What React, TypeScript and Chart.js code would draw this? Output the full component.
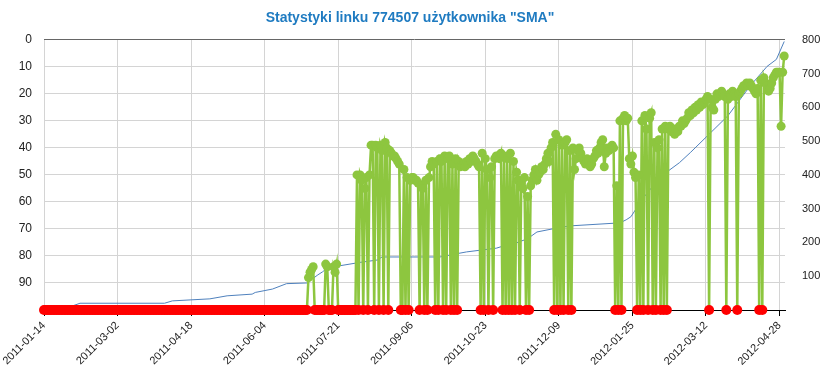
import { useEffect, useRef } from 'react';
import { Chart, registerables } from 'chart.js';

Chart.register(...registerables);

const TITLE = 'Statystyki linku 774507 użytkownika "SMA"';

// x axis: day index counted from 2011-01-14
const tickDays = [0, 47, 94, 141, 188, 235, 282, 329, 376, 423, 470];
const tickLabels = [
  '2011-01-14', '2011-03-02', '2011-04-18', '2011-06-04', '2011-07-21', '2011-09-06',
  '2011-10-23', '2011-12-09', '2012-01-25', '2012-03-12', '2012-04-28',
];

// daily position (left axis, reversed); 100 = outside ranking (red dot)
const rankByDay = [
  // 0-159
  100, 100, 100, 100, 100, 100, 100, 100, 100, 100,
  100, 100, 100, 100, 100, 100, 100, 100, 100, 100,
  100, 100, 100, 100, 100, 100, 100, 100, 100, 100,
  100, 100, 100, 100, 100, 100, 100, 100, 100, 100,
  100, 100, 100, 100, 100, 100, 100, 100, 100, 100,
  100, 100, 100, 100, 100, 100, 100, 100, 100, 100,
  100, 100, 100, 100, 100, 100, 100, 100, 100, 100,
  100, 100, 100, 100, 100, 100, 100, 100, 100, 100,
  100, 100, 100, 100, 100, 100, 100, 100, 100, 100,
  100, 100, 100, 100, 100, 100, 100, 100, 100, 100,
  100, 100, 100, 100, 100, 100, 100, 100, 100, 100,
  100, 100, 100, 100, 100, 100, 100, 100, 100, 100,
  100, 100, 100, 100, 100, 100, 100, 100, 100, 100,
  100, 100, 100, 100, 100, 100, 100, 100, 100, 100,
  100, 100, 100, 100, 100, 100, 100, 100, 100, 100,
  100, 100, 100, 100, 100, 100, 100, 100, 100, 100,
  // 160-169
  100, 100, 100, 100, 100, 100, 100, 100, 100, 88,
  // 170-179
  86, 85, 84, 100, 100, 100, 100, 100, 100, 100,
  // 180-189
  83, 84, 100, 100, 100, 84, 86, 83, 100, 100,
  // 190-199
  100, 100, 100, 100, 100, 100, 100, 100, 100, 100,
  // 200-209
  50, 100, 50, 52, 100, 55, 51, 100, 50, 39,
  // 210-219
  39, 100, 39, 40, 100, 39, 41, 100, 38, 40,
  // 220-229
  100, 41, 42, 43, 43, 44, 45, 46, 100, 100,
  // 230-239
  48, 100, 51, 100, 52, 51, 51, 52, 52, 53,
  // 240-249
  100, 54, 55, 100, 52, 100, 51, 47, 45, 46,
  // 250-259
  100, 45, 100, 44, 45, 100, 43, 100, 44, 43,
  // 260-269
  100, 46, 100, 44, 100, 45, 47, 46, 46, 47,
  // 270-279
  45, 46, 44, 45, 43, 44, 45, 46, 47, 100,
  // 280-289
  42, 100, 44, 48, 100, 51, 47, 100, 44, 43,
  // 290-299
  43, 44, 42, 100, 43, 100, 44, 100, 42, 100,
  // 300-309
  45, 100, 49, 52, 100, 53, 55, 51, 100, 58,
  // 310-319
  100, 54, 52, 50, 48, 52, 50, 49, 47, 48,
  // 320-329
  46, 44, 42, 45, 40, 38, 100, 35, 100, 37,
  // 330-339
  100, 39, 100, 38, 37, 100, 41, 100, 40, 48,
  // 340-349
  44, 41, 40, 42, 44, 45, 46, 44, 45, 47,
  // 350-359
  46, 44, 43, 41, 42, 40, 38, 37, 47, 42,
  // 360-369
  40, 41, 40, 39, 40, 100, 54, 100, 30, 100,
  // 370-379
  29, 28, 30, 29, 44, 46, 43, 49, 51, 100,
  // 380-389
  50, 100, 30, 100, 28, 33, 100, 29, 27, 100,
  // 390-399
  38, 100, 40, 37, 100, 33, 100, 32, 100, 33,
  // 400-409
  32, 34, 33, 35, 33, 34, 32, 32, 30, 31,
  // 410-419
  30, 29, 27, 28, 26, 27, 25, 26, 24, 25,
  // 420-429
  23, 24, 23, 22, 21, 100, 22, 25, 26, 22,
  // 430-439
  20, 21, 20, 19, 20, 21, 100, 22, 20, 21,
  // 440-449
  19, 20, 21, 100, 20, 19, 18, 17, 17, 16,
  // 450-459
  17, 16, 17, 18, 19, 20, 18, 100, 15, 100,
  // 460-469
  14, 16, 17, 19, 18, 16, 14, 13, 12, 12,
  // 470-473
  12, 32, 12, 6,
];

// cumulative line (right axis), vertices
const blueDays = [0, 14, 17, 23, 77, 82, 106, 117, 133, 135, 146, 155, 168, 175, 178, 182, 189, 202, 213, 216, 253, 263, 270, 289, 296, 302, 309, 315, 328, 336, 368, 372, 375, 383, 394, 406, 413, 426, 437, 451, 462, 468, 473];
const blueValues = [0, 5, 10, 20, 20, 27, 33, 42, 47, 52, 62, 78, 80, 104, 113, 128, 131, 141, 148, 157, 157, 166, 172, 183, 193, 199, 211, 231, 243, 249, 258, 267, 276, 332, 395, 436, 466, 525, 575, 662, 721, 742, 795];

const GREEN = 'rgb(141,198,63)';
const RED = '#ff0000';
const BLUE = 'rgb(79,129,189)';
const FONT = '"Liberation Sans", Arial, sans-serif';

export default function App() {
  const ref = useRef<HTMLCanvasElement>(null);

  useEffect(() => {
    document.body.style.margin = '0';
    const chart = new Chart(ref.current as HTMLCanvasElement, {
      type: 'line',
      data: {
        datasets: [
          {
            label: 'pozycja',
            data: rankByDay.map((r, i) => ({ x: i, y: r })),
            yAxisID: 'y',
            borderColor: GREEN,
            borderWidth: 2.5,
            pointRadius: rankByDay.map((r) => (r >= 100 ? 5 : 4.5)),
            pointBackgroundColor: rankByDay.map((r) => (r >= 100 ? RED : GREEN)),
            pointBorderWidth: 0,
            pointHoverRadius: 0,
            tension: 0,
            order: 1,
            clip: false as any,
          },
          {
            label: 'wejścia',
            data: blueDays.map((d, i) => ({ x: d, y: blueValues[i] })),
            yAxisID: 'y2',
            borderColor: BLUE,
            borderWidth: 1,
            pointRadius: 0,
            tension: 0,
            order: 2,
          },
        ],
      },
      options: {
        responsive: false,
        animation: false,
        events: [],
        plugins: {
          legend: { display: false },
          tooltip: { enabled: false },
          title: {
            display: true,
            text: TITLE,
            color: '#1f7bc1',
            font: { family: FONT, size: 14, weight: 'bold' },
            padding: { top: 10, bottom: 13 },
          },
        },
        scales: {
          x: {
            type: 'linear',
            min: 0,
            max: 473.5,
            afterBuildTicks: (s: any) => {
              s.ticks = tickDays.map((v) => ({ value: v }));
            },
            afterFit: (s: any) => {
              s.height = 67;
            },
            ticks: {
              autoSkip: false,
              maxRotation: 45,
              minRotation: 45,
              padding: 3,
              color: '#222',
              font: { family: FONT, size: 11 },
              callback: (_v: any, i: number) => tickLabels[i] ?? '',
            },
            grid: { color: '#d4d4d4', tickColor: '#000', tickLength: 6 },
            border: { color: '#000', width: 1 },
          },
          y: {
            position: 'left',
            reverse: true,
            min: 0,
            max: 100,
            afterFit: (s: any) => {
              s.width = 44;
            },
            ticks: {
              stepSize: 10,
              padding: 12,
              color: '#222',
              font: { family: FONT, size: 12 },
              callback: (v: any) => (v === 100 ? '' : String(v)),
            },
            grid: {
              drawTicks: false,
              color: (ctx: any) =>
                ctx.tick && ctx.tick.value === 0 ? '#666' : ctx.tick && ctx.tick.value === 100 ? 'rgba(0,0,0,0)' : '#d4d4d4',
            },
            border: { display: false },
          },
          y2: {
            position: 'right',
            min: 0,
            max: 800,
            afterFit: (s: any) => {
              s.width = 35;
            },
            ticks: {
              stepSize: 100,
              padding: 9,
              color: '#222',
              font: { family: FONT, size: 11 },
              callback: (v: any) => (v === 0 ? '' : String(v)),
            },
            grid: { display: false },
            border: { display: false },
          },
        },
      } as any,
    });
    return () => chart.destroy();
  }, []);

  return (
    <div style={{ position: 'absolute', left: 0, top: 0, width: 820, height: 377 }}>
      <canvas ref={ref} width={820} height={377} />
    </div>
  );
}
